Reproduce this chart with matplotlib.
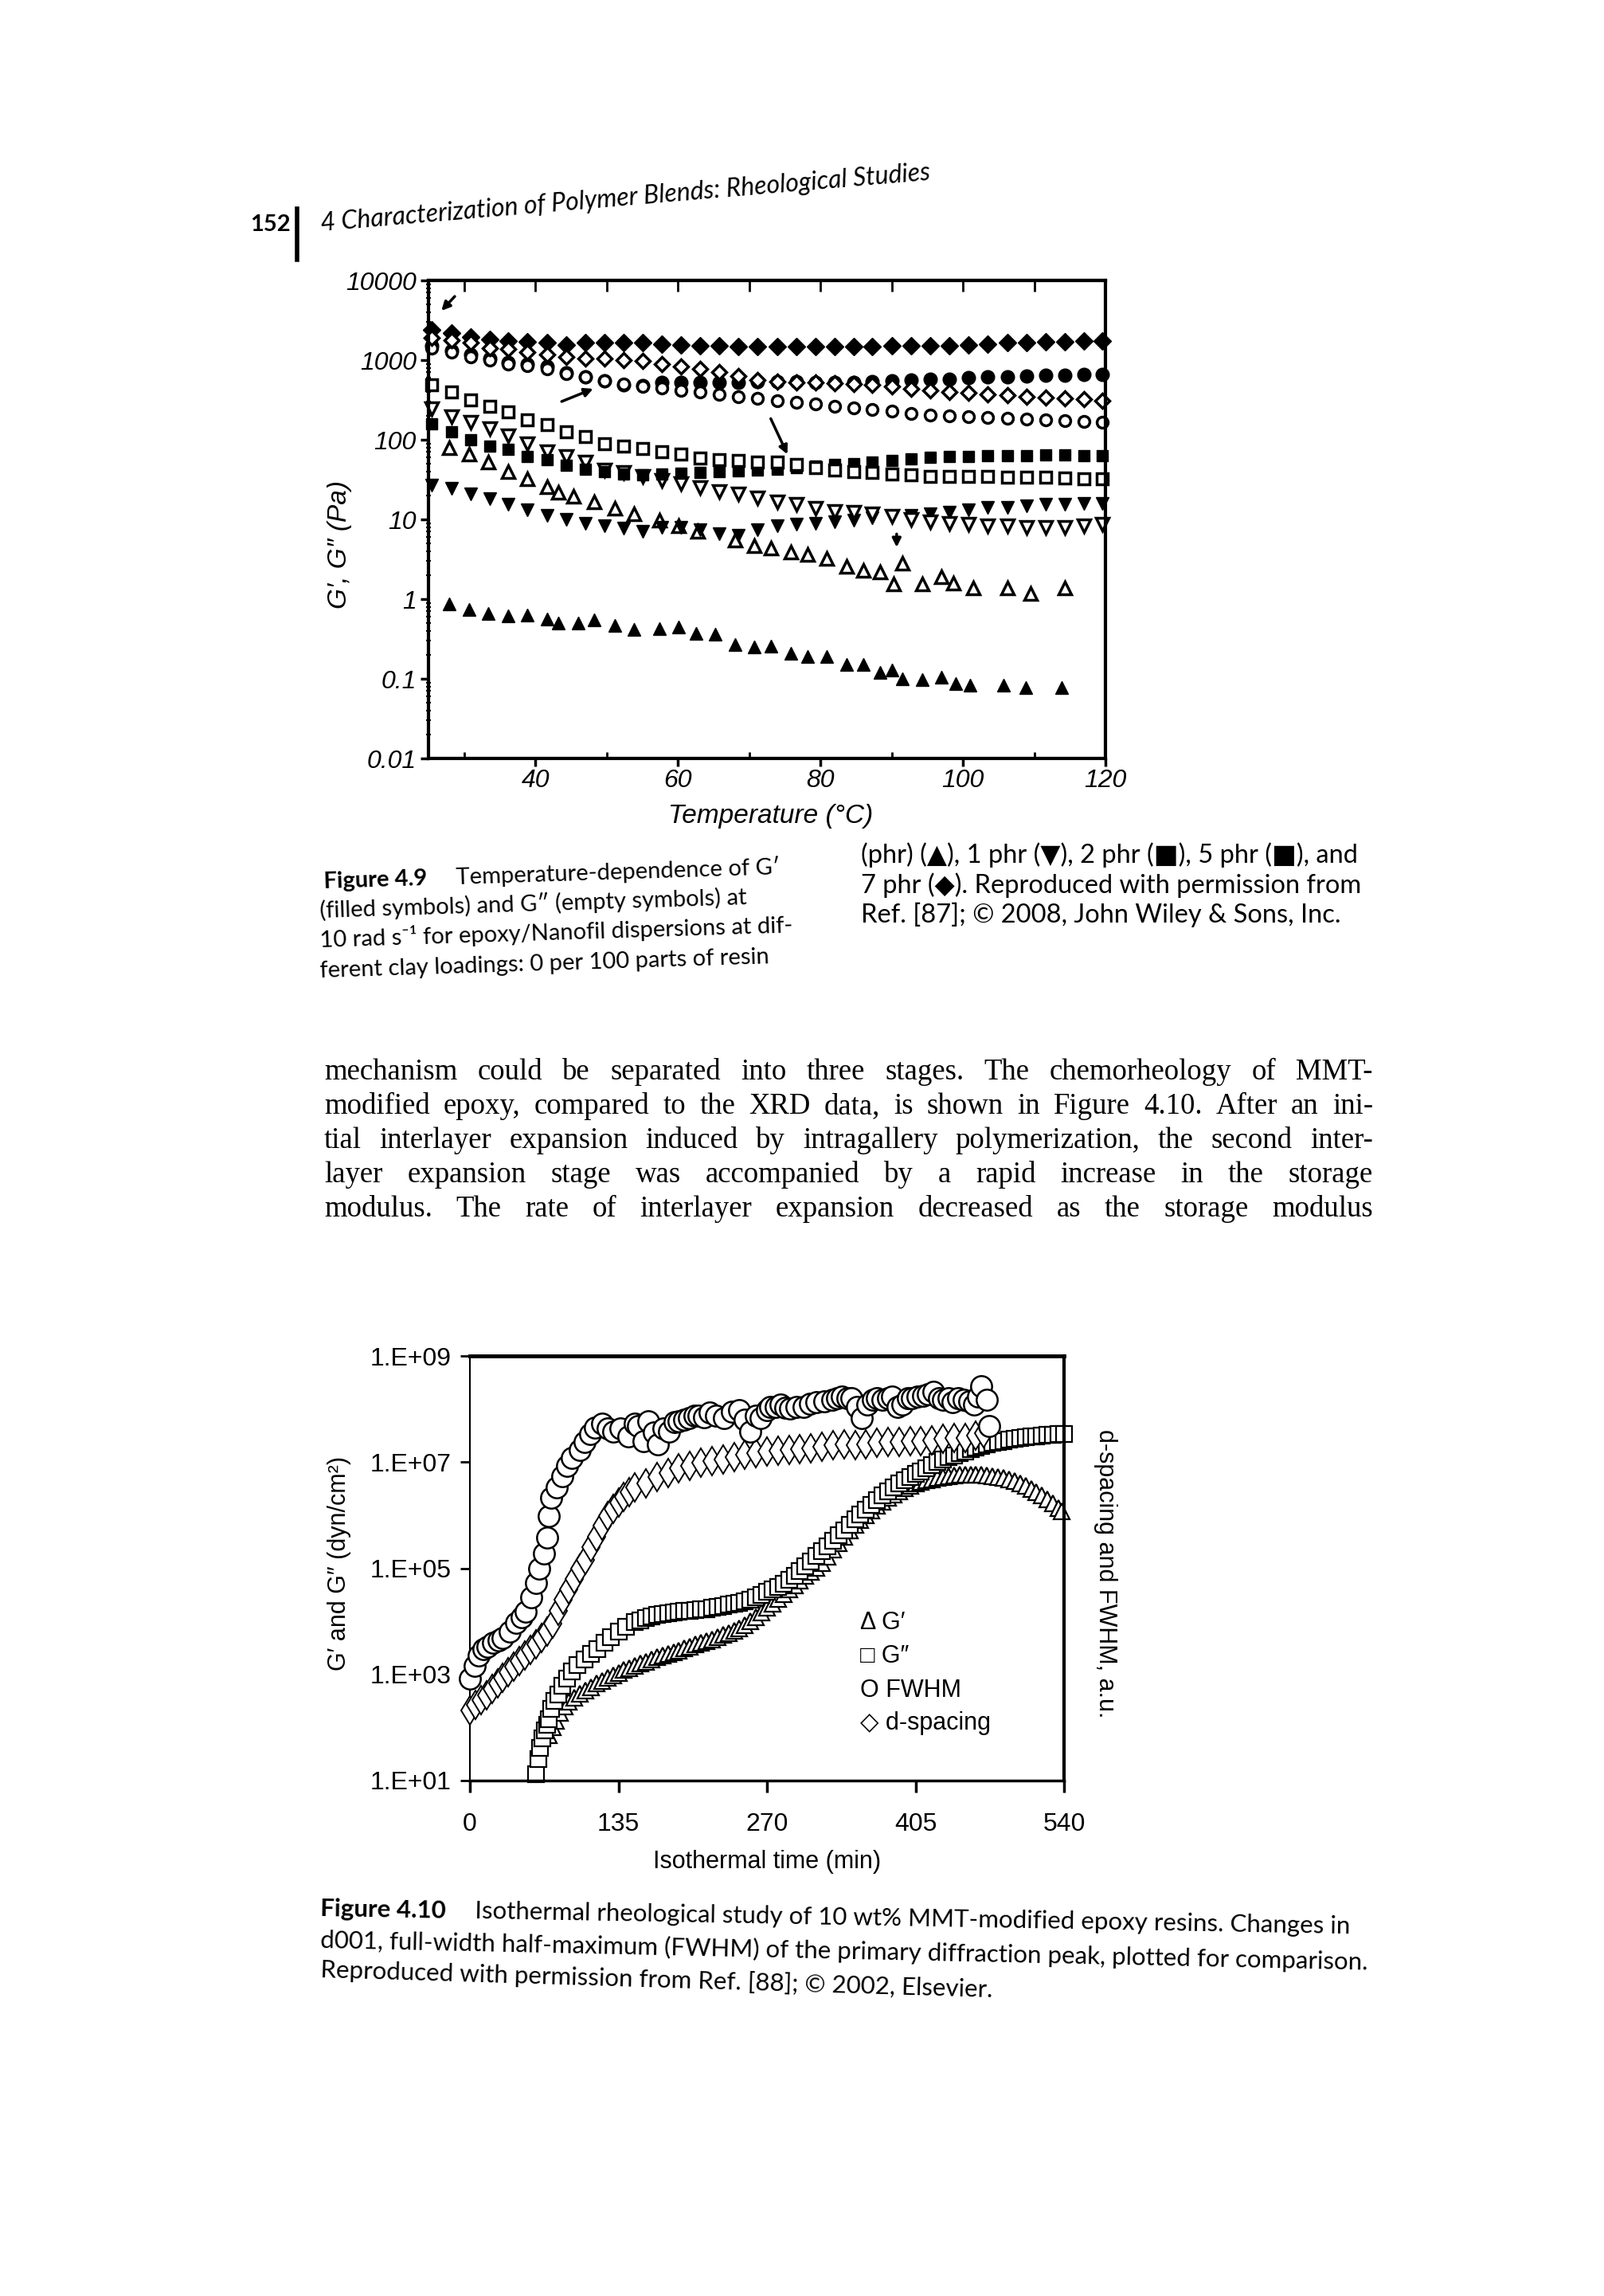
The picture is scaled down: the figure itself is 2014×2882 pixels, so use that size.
import numpy as np
import matplotlib
matplotlib.use("Agg")
import matplotlib.pyplot as plt
from matplotlib.lines import Line2D
from matplotlib.ticker import LogLocator, NullFormatter, NullLocator

plt.rcParams['font.family'] = ['Liberation Sans', 'DejaVu Sans']

# ---------------- Figure 4.9 : G' / G'' vs temperature ----------------
temp = [25.5, 28.2, 30.9, 33.6, 36.2, 38.9, 41.6, 44.3, 47.0, 49.7, 52.4, 55.1,
        57.8, 60.4, 63.1, 65.8, 68.5, 71.2, 73.9, 76.6, 79.3, 82.0, 84.7, 87.3,
        90.0, 92.7, 95.4, 98.1, 100.8, 103.5, 106.2, 108.9, 111.6, 114.3, 117.0, 119.6]

g1_7phr = [2400, 2200, 1950, 1800, 1750, 1680, 1650, 1560, 1650, 1650, 1650, 1650,
           1600, 1550, 1500, 1500, 1480, 1480, 1480, 1480, 1480, 1480, 1480, 1480,
           1500, 1500, 1530, 1530, 1560, 1600, 1650, 1650, 1700, 1700, 1750, 1750]
g2_7phr = [1900, 1780, 1660, 1400, 1380, 1260, 1170, 1100, 1050, 1050, 1000, 980,
           900, 830, 780, 700, 630, 560, 540, 530, 520, 510, 500, 490,
           470, 440, 420, 400, 390, 375, 360, 350, 340, 330, 320, 310]
g1_5phr = [1500, 1320, 1170, 1050, 930, 890, 830, 690, 620, 550, 490, 480,
           520, 520, 520, 525, 530, 540, 540, 540, 530, 530, 530, 540,
           550, 560, 570, 580, 600, 610, 620, 630, 640, 650, 660, 660]
g2_5phr = [1400, 1250, 1100, 1000, 900, 850, 780, 680, 610, 550, 500, 470,
           450, 420, 400, 370, 345, 330, 310, 295, 280, 265, 250, 240,
           230, 215, 205, 200, 195, 190, 185, 180, 176, 172, 168, 166]
g1_2phr = [160, 126, 100, 83, 76, 62, 56, 48, 43, 40, 37, 36,
           37, 38, 39, 40, 41, 42, 43, 45, 47, 49, 50, 52,
           55, 58, 60, 61, 62, 63, 63, 63, 64, 64, 63, 63]
g2_2phr = [490, 398, 316, 263, 224, 178, 155, 126, 110, 89, 83, 78,
           71, 66, 59, 56, 55, 52, 52, 49, 45, 42, 40, 39,
           37, 36, 35, 35, 35, 35, 34, 34, 34, 33, 32, 32]
g1_1phr = [27, 24.5, 21, 18, 15.5, 13.2, 11.2, 10, 9.0, 8.3, 7.7, 7.1,
           7.9, 7.9, 7.4, 6.6, 6.3, 7.4, 8.3, 8.7, 9.0, 9.3, 9.8, 10.5,
           11.0, 11.2, 11.7, 12.3, 13.2, 14.2, 14.2, 14.8, 15.5, 15.5, 16, 16]
g2_1phr = [245, 195, 166, 138, 112, 89, 71, 62, 52, 42, 39, 35,
           31, 28, 25, 22.4, 20.9, 18.6, 16.6, 15.5, 13.8, 12.6, 12.3, 11.7,
           11.0, 10.0, 9.3, 8.9, 8.7, 8.3, 8.3, 7.9, 7.9, 7.9, 8.3, 8.7]

temp_0phr_g1 = [27.9, 30.7, 33.4, 36.2, 38.9, 41.6, 43.2, 46.0, 48.3, 51.1, 53.8, 57.4,
                60.1, 62.5, 65.2, 68.0, 70.7, 73.1, 75.8, 78.2, 80.9, 83.7, 86.0, 88.4,
                90.0, 91.5, 94.3, 97.0, 99.0, 101.0, 105.7, 108.8, 113.9]
g1_0phr = [0.87, 0.74, 0.66, 0.61, 0.63, 0.56, 0.50, 0.50, 0.55, 0.47, 0.42, 0.43,
           0.45, 0.37, 0.36, 0.27, 0.25, 0.26, 0.21, 0.19, 0.19, 0.15, 0.15, 0.12,
           0.13, 0.10, 0.097, 0.105, 0.087, 0.083, 0.083, 0.077, 0.077]
temp_0phr_g2 = [27.9, 30.7, 33.4, 36.2, 38.9, 41.6, 43.2, 45.3, 48.3, 51.1, 53.8, 57.4,
                60.1, 62.8, 68.0, 70.7, 73.1, 75.8, 78.2, 80.9, 83.7, 86.0, 88.4, 90.3,
                91.5, 94.3, 97.0, 98.6, 101.4, 106.3, 109.5, 114.3]
g2_0phr = [80, 66, 52, 40, 32, 26, 22, 19.5, 16.6, 13.8, 11.7, 9.8,
           8.3, 7.1, 5.5, 4.7, 4.4, 3.9, 3.6, 3.2, 2.6, 2.3, 2.2, 1.55,
           2.8, 1.55, 1.9, 1.6, 1.38, 1.38, 1.17, 1.38]

temp_ticks = [40, 60, 80, 100, 120]
modulus_ticks = [0.01, 0.1, 1, 10, 100, 1000, 10000]
modulus_labels = ['0.01', '0.1', '1', '10', '100', '1000', '10000']

# ---------------- Figure 4.10 : isothermal cure ----------------
# moduli as log10(dyn/cm2)
t_gpp = [60, 62, 64, 66, 68, 70, 72, 74, 77, 80, 84, 88, 93, 98, 104, 110, 116, 122, 128, 135,
         142, 150, 155, 160, 165, 170, 175, 180, 185, 190, 195, 200, 205, 210, 215, 220, 225, 230,
         235, 240, 245, 250, 255, 260, 265, 270, 275, 280, 285, 290, 295, 300, 305, 310, 315, 320,
         325, 330, 335, 340, 345, 350, 355, 360, 365, 370, 375, 380, 385, 390, 395, 400, 405, 410,
         415, 420, 425, 430, 435, 440, 445, 450, 455, 460, 465, 470, 475, 480, 485, 490, 495, 500,
         505, 510, 515, 520, 525, 530, 535, 540]
gpp_log = [1.12, 1.40, 1.62, 1.80, 1.95, 2.05, 2.15, 2.35, 2.50, 2.62, 2.78, 2.92, 3.05, 3.18, 3.28,
           3.38, 3.47, 3.60, 3.70, 3.80, 3.90, 3.98, 4.02, 4.06, 4.09, 4.12, 4.14, 4.15, 4.17, 4.18,
           4.19, 4.20, 4.21, 4.22, 4.23, 4.25, 4.27, 4.29, 4.31, 4.33, 4.35, 4.38, 4.41, 4.45, 4.50,
           4.55, 4.60, 4.65, 4.71, 4.78, 4.86, 4.95, 5.04, 5.13, 5.23, 5.33, 5.42, 5.52, 5.62, 5.72,
           5.82, 5.92, 6.01, 6.10, 6.19, 6.28, 6.37, 6.45, 6.53, 6.60, 6.66, 6.72, 6.78, 6.83, 6.89,
           6.95, 7.00, 7.05, 7.09, 7.13, 7.17, 7.20, 7.24, 7.27, 7.30, 7.33, 7.36, 7.38, 7.40, 7.42,
           7.44, 7.45, 7.47, 7.48, 7.49, 7.50, 7.51, 7.52, 7.53, 7.53]
t_gp = [72, 75, 78, 82, 86, 90, 95, 100, 105, 110, 115, 120, 125, 130, 135, 140, 145, 150, 155,
        160, 165, 170, 175, 180, 185, 190, 195, 200, 205, 210, 215, 220, 225, 230, 235, 240, 245,
        250, 255, 260, 265, 270, 275, 280, 285, 290, 295, 300, 305, 310, 315, 320, 325, 330, 335,
        340, 345, 350, 355, 360, 365, 370, 375, 380, 385, 390, 395, 400, 405, 410, 415, 420, 425,
        430, 435, 440, 445, 450, 455, 460, 465, 470, 475, 480, 485, 490, 495, 500, 505, 510, 515,
        520, 525, 530, 535, 538]
gp_log = [1.85, 2.00, 2.12, 2.28, 2.40, 2.48, 2.56, 2.63, 2.70, 2.76, 2.83, 2.88, 2.93, 2.98, 3.03,
          3.08, 3.12, 3.16, 3.20, 3.24, 3.28, 3.32, 3.35, 3.38, 3.42, 3.45, 3.49, 3.52, 3.56, 3.60,
          3.63, 3.66, 3.70, 3.74, 3.78, 3.82, 3.87, 3.93, 4.00, 4.08, 4.16, 4.25, 4.33, 4.42, 4.51,
          4.60, 4.68, 4.77, 4.85, 4.93, 5.01, 5.10, 5.22, 5.35, 5.48, 5.60, 5.71, 5.82, 5.91, 6.00,
          6.09, 6.18, 6.26, 6.33, 6.39, 6.45, 6.51, 6.56, 6.60, 6.63, 6.66, 6.68, 6.70, 6.72, 6.74,
          6.75, 6.76, 6.77, 6.77, 6.77, 6.76, 6.75, 6.74, 6.72, 6.70, 6.67, 6.64, 6.60, 6.55, 6.50,
          6.44, 6.38, 6.30, 6.22, 6.14, 6.08]
t_fwhm = [0, 4, 8, 12, 16, 21, 26, 30, 36, 42, 47, 51, 56, 60, 63, 67, 70, 72, 74, 79,
          84, 88, 93, 100, 104, 109, 114, 120, 125, 130, 137, 144, 150, 153, 158, 162, 167, 171, 176, 181,
          186, 190, 195, 199, 204, 208, 213, 218, 224, 231, 238, 245, 250, 255, 260, 264, 270, 273, 278, 282,
          287, 291, 297, 303, 309, 315, 322, 329, 334, 338, 343, 347, 352, 356, 361, 366, 370, 375, 380, 384,
          389, 393, 398, 402, 407, 412, 416, 421, 426, 430, 435, 439, 444, 449, 454, 458, 462, 465, 470, 472]
fwhm = [0.24, 0.27, 0.295, 0.31, 0.315, 0.325, 0.33, 0.335, 0.35, 0.372, 0.385, 0.397, 0.432, 0.466,
        0.5, 0.535, 0.572, 0.622, 0.666, 0.691, 0.716, 0.741, 0.76, 0.779, 0.797, 0.816, 0.832, 0.841,
        0.829, 0.822, 0.829, 0.81, 0.84, 0.835, 0.8, 0.847, 0.82, 0.791, 0.83, 0.822, 0.845, 0.847,
        0.85, 0.854, 0.86, 0.86, 0.855, 0.866, 0.86, 0.854, 0.868, 0.872, 0.85, 0.822, 0.86, 0.854,
        0.872, 0.879, 0.88, 0.885, 0.878, 0.876, 0.88, 0.879, 0.887, 0.891, 0.893, 0.897, 0.9, 0.904,
        0.9, 0.901, 0.88, 0.854, 0.885, 0.897, 0.9, 0.897, 0.9, 0.904, 0.88, 0.885, 0.9, 0.901, 0.905,
        0.907, 0.91, 0.916, 0.9, 0.897, 0.9, 0.891, 0.9, 0.897, 0.893, 0.885, 0.905, 0.929, 0.897, 0.835]
t_dsp = [0, 5, 10, 15, 20, 25, 30, 35, 40, 45, 50, 55, 60, 65, 70, 75, 80, 85, 90, 95, 100, 105, 110,
         115, 120, 125, 130, 135, 140, 145, 150, 160, 170, 180, 190, 200, 210, 220, 230, 240, 250, 260,
         270, 280, 290, 300, 310, 320, 330, 340, 350, 360, 370, 380, 390, 400, 410, 420, 430, 440, 450,
         460, 467]
dsp = [0.165, 0.178, 0.19, 0.2, 0.215, 0.228, 0.242, 0.255, 0.268, 0.282, 0.295, 0.308, 0.32, 0.335,
       0.35, 0.37, 0.4, 0.425, 0.45, 0.475, 0.5, 0.52, 0.55, 0.575, 0.6, 0.622, 0.64, 0.655, 0.668, 0.68,
       0.69, 0.7, 0.715, 0.725, 0.735, 0.742, 0.748, 0.752, 0.756, 0.762, 0.768, 0.772, 0.774, 0.776,
       0.778, 0.78, 0.783, 0.786, 0.79, 0.792, 0.79, 0.792, 0.796, 0.797, 0.797, 0.8, 0.8, 0.802, 0.804,
       0.806, 0.807, 0.812, 0.818]

time_ticks = [0, 135, 270, 405, 540]
dyn_ticks = [1e1, 1e3, 1e5, 1e7, 1e9]
dyn_labels = ['1.E+01', '1.E+03', '1.E+05', '1.E+07', '1.E+09']

# ---------------- page ----------------
W, H = 2014, 2882
fig = plt.figure(figsize=(W / 100, H / 100), dpi=100)
fig.patch.set_facecolor('white')
renderer = fig.canvas.get_renderer()

CAP = ['Lato', 'DejaVu Sans']
SERIF = ['Liberation Serif', 'DejaVu Serif']


def px(x, y):
    return x / W, 1 - y / H


def text_width(s, **kw):
    t = fig.text(0, 0, s, **kw)
    w = t.get_window_extent(renderer).width
    t.remove()
    return w


def caption_line(x, y, lead, rest, rot, size=21):
    kw = dict(fontsize=size, family=CAP, rotation=rot, rotation_mode='anchor',
              ha='left', va='baseline')
    if lead:
        fig.text(*px(x, y), lead, fontweight='bold', **kw)
        w = text_width(lead, fontsize=size, family=CAP, fontweight='bold') + 36
        a = np.radians(rot)
        x, y = x + w * np.cos(a), y - w * np.sin(a)
    fig.text(*px(x, y), rest, **kw)


def justify(line, y, x0=407, x1=1724, size=26.5):
    words = line.split()
    kw = dict(fontsize=size, family=SERIF, va='baseline', ha='left')
    widths = [text_width(w, **kw) for w in words]
    gap = (x1 - x0 - sum(widths)) / (len(words) - 1)
    x = x0
    for w, wd in zip(words, widths):
        fig.text(*px(x, y), w, **kw)
        x += wd + gap


# running head
fig.text(*px(365, 290), '152', fontsize=21, fontweight='bold', family=CAP, ha='right', va='baseline')
fig.add_artist(Line2D([373 / W, 373 / W], [1 - 262 / H, 1 - 326 / H], color='k', lw=4))
fig.text(*px(403, 290), '4 Characterization of Polymer Blends: Rheological Studies',
         fontsize=23, style='italic', family=CAP, rotation=4.8, rotation_mode='anchor',
         ha='left', va='baseline')

# ---------- chart 1 ----------
ax1 = fig.add_axes([538 / W, 1 - 952 / H, 850 / W, 600 / H])
ax1.set_yscale('log')
ax1.set_xlim(25, 120)
ax1.set_ylim(0.01, 1e4)


def filled(ax, x, y, m, ms):
    ax.plot(x, y, ls='none', marker=m, ms=ms, mfc='k', mec='k', mew=1, clip_on=False)


def hollow(ax, x, y, m, ms, mew=2.2):
    ax.plot(x, y, ls='none', marker=m, ms=ms, mfc='white', mec='k', mew=mew, clip_on=False)


filled(ax1, temp_0phr_g1, g1_0phr, '^', 12)
hollow(ax1, temp_0phr_g2, g2_0phr, '^', 11, 2.5)
filled(ax1, temp, g1_1phr, 'v', 12)
hollow(ax1, temp, g2_1phr, 'v', 11, 2.5)
filled(ax1, temp, g1_2phr, 's', 10)
hollow(ax1, temp, g2_2phr, 's', 10, 2.5)
filled(ax1, temp, g1_5phr, 'o', 12)
hollow(ax1, temp, g2_5phr, 'o', 10, 2.5)
filled(ax1, temp, g1_7phr, 'D', 11)
hollow(ax1, temp, g2_7phr, 'D', 9, 2.5)

arrow = dict(arrowstyle='-|>', lw=2.5, color='k', mutation_scale=16)
ax1.annotate('', xy=(26.6, 3980), xytext=(28.9, 6600), arrowprops=arrow)
ax1.annotate('', xy=(48.4, 447), xytext=(43.4, 295), arrowprops=arrow)
ax1.annotate('', xy=(75.5, 62), xytext=(72.9, 195), arrowprops=arrow)
ax1.annotate('', xy=(90.7, 4.2), xytext=(90.7, 7.0), arrowprops=arrow)

ax1.set_xticks(temp_ticks)
ax1.set_xticklabels([str(v) for v in temp_ticks], fontsize=23, style='italic')
ax1.set_xticks([30, 50, 70, 90, 110], minor=True)
ax1.tick_params(axis='x', which='major', direction='out', length=7, width=2.5, pad=2, top=False)
ax1.tick_params(axis='x', which='minor', direction='in', length=6, width=2, top=False)
ax1.set_yticks(modulus_ticks)
ax1.set_yticklabels(modulus_labels, fontsize=23, style='italic')
ax1.yaxis.set_minor_locator(LogLocator(base=10, subs=np.arange(2, 10) * 1.0, numticks=20))
ax1.yaxis.set_minor_formatter(NullFormatter())
ax1.tick_params(axis='y', which='major', direction='out', length=7, width=2.5, pad=4, right=False)
ax1.tick_params(axis='y', which='minor', direction='inout', length=5, width=1.5, right=False)
for s in ax1.spines.values():
    s.set_linewidth(3)
top = ax1.secondary_xaxis('top')
top.set_xticks([30, 40, 50, 60, 70, 80, 90, 100, 110])
top.set_xticklabels([])
top.tick_params(direction='in', length=10, width=2)
top.spines['top'].set_linewidth(3)

fig.text(*px(968, 1024), 'Temperature (°C)', fontsize=24, style='italic', ha='center', va='center')
fig.text(*px(427, 683), 'G′, G″ (Pa)', fontsize=24, style='italic', rotation=90,
         ha='center', va='center')

# caption 4.9
caption_line(407, 1115, 'Figure 4.9', 'Temperature-dependence of G′', 1.8)
caption_line(402, 1152, '', '(filled symbols) and G″ (empty symbols) at', 1.8)
caption_line(402, 1189, '', '10 rad s⁻¹ for epoxy/Nanofil dispersions at dif-', 1.8)
caption_line(402, 1227, '', 'ferent clay loadings: 0 per 100 parts of resin', 1.8)
caption_line(1081, 1083, '', '(phr) (▲), 1 phr (▼), 2 phr (■), 5 phr (■), and', 0, 23.5)
caption_line(1081, 1121, '', '7 phr (◆). Reproduced with permission from', 0, 23.5)
caption_line(1081, 1158, '', 'Ref. [87]; © 2008, John Wiley & Sons, Inc.', 0, 23.5)

# body text
body = ['mechanism could be separated into three stages. The chemorheology of MMT-',
        'modified epoxy, compared to the XRD data, is shown in Figure 4.10. After an ini-',
        'tial interlayer expansion induced by intragallery polymerization, the second inter-',
        'layer expansion stage was accompanied by a rapid increase in the storage',
        'modulus. The rate of interlayer expansion decreased as the storage modulus']
for line, yb in zip(body, [1355, 1398, 1441, 1484, 1527]):
    justify(line, yb)

# ---------- chart 2 ----------
ax2 = fig.add_axes([590 / W, 1 - 2235 / H, 746 / W, 533 / H])
ax2.set_yscale('log')
ax2.set_xlim(0, 540)
ax2.set_ylim(10, 1e9)
hollow(ax2, t_gp, np.power(10.0, gp_log), '^', 15, mew=1.6)
hollow(ax2, t_gpp, np.power(10.0, gpp_log), 's', 15, mew=1.6)

ax2.set_xticks(time_ticks)
ax2.set_xticklabels([str(v) for v in time_ticks], fontsize=23)
ax2.set_yticks(dyn_ticks)
ax2.set_yticklabels(dyn_labels, fontsize=23)
ax2.yaxis.set_minor_locator(NullLocator())
ax2.tick_params(axis='x', direction='out', length=11, width=2.5, pad=18, top=False)
ax2.tick_params(axis='y', direction='out', length=9, width=2, pad=8, right=False)
ax2.spines['top'].set_linewidth(3.5)
ax2.spines['right'].set_linewidth(3)
ax2.spines['bottom'].set_linewidth(2.5)
ax2.spines['left'].set_linewidth(1.5)

ax2r = ax2.twinx()
ax2r.set_ylim(0, 1)
ax2r.set_axis_off()
hollow(ax2r, t_dsp, dsp, 'd', 18, mew=1.4)
hollow(ax2r, t_fwhm, fwhm, 'o', 19, mew=1.8)

fig.text(*px(963, 2337), 'Isothermal time (min)', fontsize=22, ha='center', va='center')
fig.text(*px(426, 1962), 'G′ and G″ (dyn/cm²)', fontsize=22, rotation=90, ha='center', va='center')
fig.text(*px(1388, 1975), 'd-spacing and FWHM, a.u.', fontsize=22, rotation=270,
         ha='center', va='center')
for lab, yy in zip(['Δ G′', '□ G″', 'O FWHM', '◇ d-spacing'], [2037, 2079, 2122, 2163]):
    fig.text(*px(1080, yy), lab, fontsize=22, ha='left', va='center')

# caption 4.10
caption_line(402, 2405, 'Figure 4.10',
             'Isothermal rheological study of 10 wt% MMT-modified epoxy resins. Changes in', -1.0, 22.5)
caption_line(402, 2445, '',
             'd001, full-width half-maximum (FWHM) of the primary diffraction peak, plotted for comparison.',
             -1.2, 22.5)
caption_line(402, 2482, '', 'Reproduced with permission from Ref. [88]; © 2002, Elsevier.', -1.7, 22.5)

fig.savefig('out.png', dpi=100, facecolor='white')
